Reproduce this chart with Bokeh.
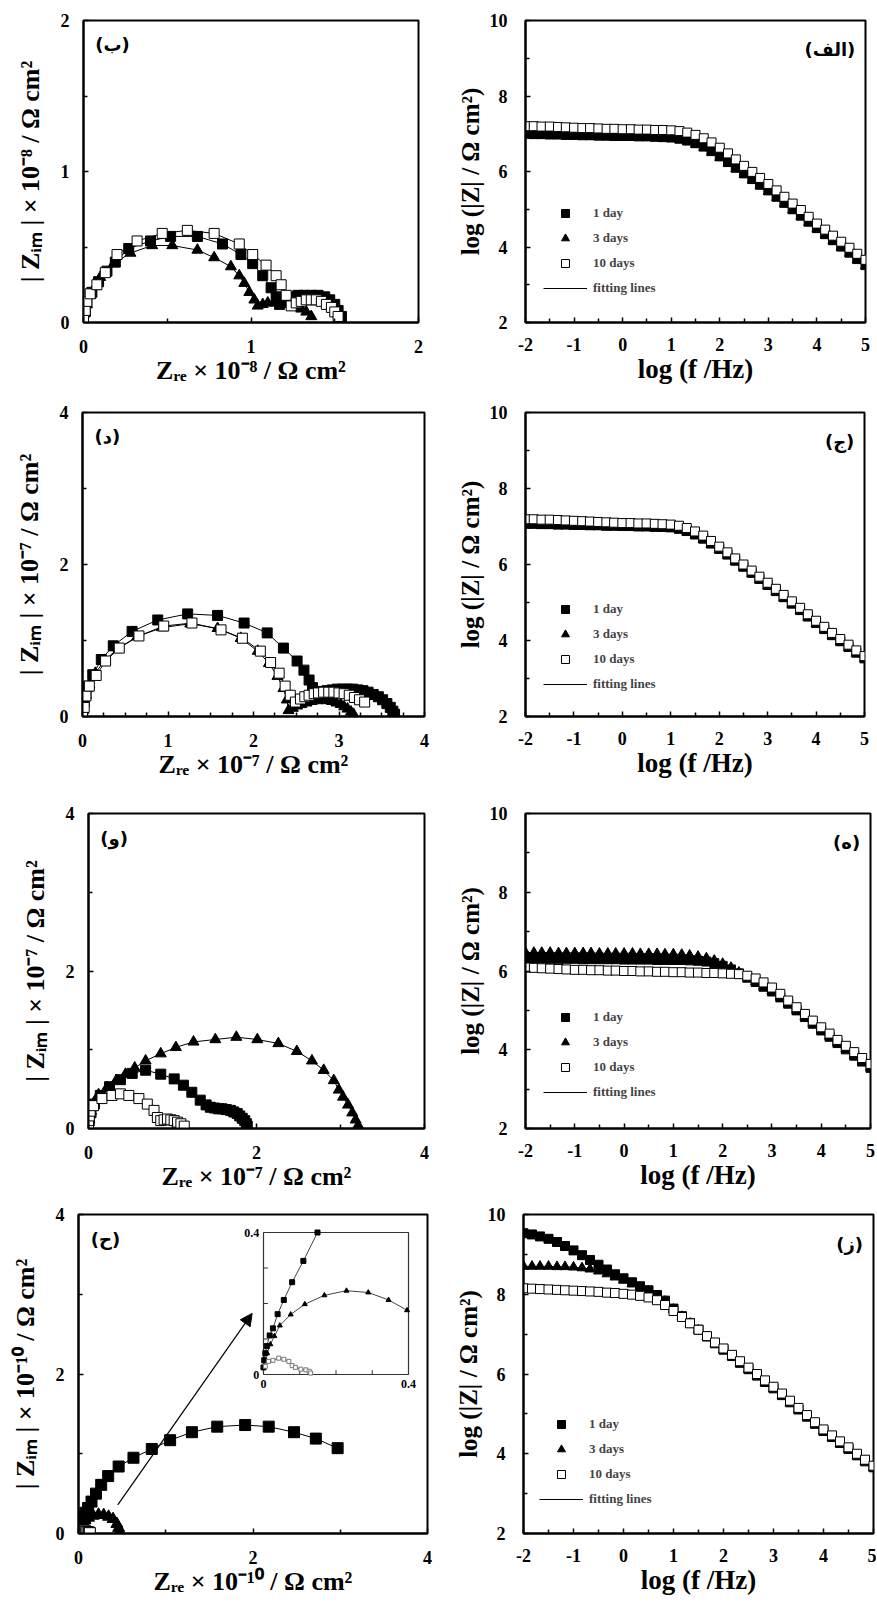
import numpy as np
from bokeh.plotting import figure
from bokeh.models import (Range1d, FixedTicker, Legend, LegendItem, Label,
                          Arrow, NormalHead)
from bokeh.layouts import column, row
from bokeh.embed import file_html
from bokeh.resources import INLINE
from bokeh.core.properties import value

SERIF = "Liberation Serif"
ARABIC = "DejaVu Sans"

# ---------------- Bode data (log f grid shared by all Bode panels) ----------------
log_f = [-2.00, -1.83, -1.67, -1.50, -1.33, -1.17, -1.00, -0.83, -0.67, -0.50, -0.33, -0.17,
         0.00, 0.17, 0.33, 0.50, 0.67, 0.83, 1.00, 1.17, 1.33, 1.50, 1.67, 1.83,
         2.00, 2.17, 2.33, 2.50, 2.67, 2.83, 3.00, 3.17, 3.33, 3.50, 3.67, 3.83,
         4.00, 4.17, 4.33, 4.50, 4.67, 4.83, 5.00]

# panel (الف)
alef_1day = [7.00, 6.99, 6.99, 6.98, 6.98, 6.97, 6.97, 6.96, 6.96, 6.95, 6.95, 6.94,
             6.94, 6.94, 6.93, 6.93, 6.92, 6.91, 6.90, 6.87, 6.82, 6.75, 6.66, 6.54,
             6.40, 6.25, 6.10, 5.95, 5.80, 5.65, 5.50, 5.33, 5.17, 5.00, 4.83, 4.67,
             4.50, 4.34, 4.18, 4.01, 3.85, 3.68, 3.52]
alef_3days = [6.97, 6.97, 6.96, 6.96, 6.95, 6.95, 6.94, 6.94, 6.93, 6.93, 6.92, 6.92,
              6.91, 6.91, 6.90, 6.90, 6.89, 6.88, 6.87, 6.84, 6.79, 6.72, 6.63, 6.51,
              6.37, 6.22, 6.07, 5.92, 5.77, 5.62, 5.47, 5.31, 5.14, 4.98, 4.81, 4.65,
              4.48, 4.32, 4.16, 3.99, 3.83, 3.66, 3.50]
alef_10days = [7.20, 7.20, 7.19, 7.19, 7.18, 7.17, 7.16, 7.15, 7.15, 7.14, 7.13, 7.13,
               7.12, 7.12, 7.11, 7.11, 7.10, 7.10, 7.09, 7.07, 7.03, 6.97, 6.88, 6.77,
               6.63, 6.48, 6.32, 6.15, 5.99, 5.83, 5.67, 5.50, 5.33, 5.15, 4.98, 4.80,
               4.62, 4.46, 4.30, 4.14, 3.98, 3.82, 3.66]
# panel (ج)
jim_1day = [7.08, 7.08, 7.07, 7.07, 7.06, 7.06, 7.05, 7.05, 7.04, 7.04, 7.03, 7.03,
            7.02, 7.02, 7.01, 7.01, 7.00, 6.99, 6.98, 6.94, 6.88, 6.79, 6.68, 6.55,
            6.41, 6.26, 6.10, 5.94, 5.78, 5.62, 5.46, 5.30, 5.14, 4.97, 4.80, 4.63,
            4.46, 4.30, 4.14, 3.98, 3.83, 3.68, 3.53]
jim_3days = [7.03, 7.03, 7.02, 7.02, 7.01, 7.01, 7.00, 7.00, 6.99, 6.99, 6.98, 6.98,
             6.97, 6.97, 6.96, 6.96, 6.95, 6.95, 6.94, 6.91, 6.85, 6.77, 6.66, 6.53,
             6.39, 6.24, 6.08, 5.92, 5.76, 5.60, 5.44, 5.28, 5.12, 4.95, 4.78, 4.61,
             4.44, 4.28, 4.12, 3.96, 3.81, 3.66, 3.51]
jim_10days = [7.19, 7.19, 7.18, 7.18, 7.17, 7.16, 7.15, 7.14, 7.13, 7.12, 7.11, 7.10,
              7.09, 7.09, 7.08, 7.08, 7.07, 7.06, 7.05, 7.02, 6.96, 6.87, 6.76, 6.62,
              6.47, 6.32, 6.16, 6.00, 5.84, 5.68, 5.52, 5.36, 5.20, 5.03, 4.86, 4.69,
              4.52, 4.36, 4.20, 4.04, 3.89, 3.74, 3.59]
# panel (ه)
he_1day = [6.32, 6.32, 6.32, 6.31, 6.31, 6.31, 6.31, 6.30, 6.30, 6.30, 6.30, 6.30,
           6.29, 6.29, 6.29, 6.29, 6.28, 6.28, 6.28, 6.28, 6.27, 6.26, 6.24, 6.20,
           6.13, 6.04, 5.94, 5.83, 5.72, 5.60, 5.48, 5.33, 5.17, 5.00, 4.83, 4.66,
           4.49, 4.33, 4.17, 4.01, 3.85, 3.70, 3.54]
he_3days = [6.47, 6.47, 6.47, 6.47, 6.46, 6.46, 6.46, 6.46, 6.46, 6.45, 6.45, 6.45,
            6.45, 6.45, 6.44, 6.44, 6.44, 6.43, 6.43, 6.42, 6.40, 6.37, 6.33, 6.27,
            6.19, 6.09, 5.97, 5.85, 5.73, 5.61, 5.49, 5.34, 5.18, 5.01, 4.84, 4.67,
            4.50, 4.34, 4.18, 4.02, 3.86, 3.71, 3.55]
he_10days = [6.09, 6.08, 6.07, 6.06, 6.05, 6.04, 6.03, 6.03, 6.02, 6.02, 6.01, 6.01,
             6.00, 6.00, 5.99, 5.99, 5.98, 5.98, 5.97, 5.97, 5.96, 5.96, 5.95, 5.95,
             5.94, 5.93, 5.92, 5.88, 5.81, 5.71, 5.58, 5.42, 5.25, 5.08, 4.91, 4.74,
             4.57, 4.41, 4.25, 4.10, 3.94, 3.79, 3.64]
# panel (ز)
ze_1day = [9.53, 9.50, 9.45, 9.39, 9.31, 9.21, 9.10, 8.98, 8.86, 8.74, 8.62, 8.50,
           8.40, 8.30, 8.20, 8.10, 7.98, 7.84, 7.64, 7.45, 7.28, 7.11, 6.94, 6.77,
           6.61, 6.45, 6.28, 6.12, 5.96, 5.80, 5.64, 5.47, 5.29, 5.11, 4.93, 4.75,
           4.57, 4.42, 4.27, 4.12, 3.96, 3.81, 3.66]
ze_3days = [8.70, 8.70, 8.70, 8.70, 8.69, 8.69, 8.68, 8.66, 8.63, 8.58, 8.51, 8.43,
            8.35, 8.26, 8.17, 8.07, 7.96, 7.82, 7.62, 7.44, 7.27, 7.10, 6.93, 6.76,
            6.60, 6.44, 6.27, 6.11, 5.95, 5.79, 5.63, 5.46, 5.28, 5.10, 4.92, 4.74,
            4.56, 4.41, 4.26, 4.11, 3.95, 3.80, 3.65]
ze_10days = [8.15, 8.14, 8.13, 8.12, 8.11, 8.10, 8.09, 8.08, 8.07, 8.06, 8.04, 8.03,
             8.01, 7.99, 7.96, 7.92, 7.85, 7.73, 7.58, 7.43, 7.27, 7.11, 6.95, 6.79,
             6.64, 6.48, 6.32, 6.16, 6.00, 5.84, 5.68, 5.51, 5.33, 5.15, 4.97, 4.79,
             4.61, 4.46, 4.31, 4.16, 4.00, 3.85, 3.70]

# ---------------- Nyquist data ----------------
# panel (ب)  (x 10^-8)
be_1day_x = [0.00, 0.01, 0.02, 0.05, 0.09, 0.14, 0.19, 0.27, 0.40, 0.52, 0.68, 0.83, 0.94, 1.01, 1.07,
             1.12, 1.15, 1.17, 1.20, 1.24, 1.28, 1.32, 1.36, 1.40, 1.44, 1.47, 1.50, 1.52, 1.54]
be_1day_y = [0.02, 0.07, 0.13, 0.20, 0.27, 0.34, 0.40, 0.49, 0.54, 0.57, 0.57, 0.52, 0.45, 0.39, 0.31,
             0.23, 0.17, 0.12, 0.15, 0.17, 0.18, 0.18, 0.18, 0.18, 0.17, 0.15, 0.12, 0.08, 0.04]
be_3days_x = [0.00, 0.01, 0.02, 0.04, 0.07, 0.10, 0.18, 0.28, 0.41, 0.53, 0.68, 0.78, 0.88, 0.93,
              0.96, 0.99, 1.02, 1.04, 1.07, 1.10, 1.14, 1.18, 1.22, 1.26, 1.30, 1.33, 1.36]
be_3days_y = [0.02, 0.07, 0.12, 0.18, 0.24, 0.30, 0.39, 0.46, 0.51, 0.51, 0.48, 0.43, 0.37, 0.31,
              0.26, 0.20, 0.15, 0.11, 0.12, 0.13, 0.13, 0.13, 0.12, 0.11, 0.09, 0.07, 0.04]
be_10days_x = [0.00, 0.01, 0.02, 0.04, 0.08, 0.13, 0.20, 0.32, 0.47, 0.62, 0.78, 0.93, 1.01, 1.09,
               1.15, 1.18, 1.21, 1.24, 1.27, 1.30, 1.33, 1.36, 1.39, 1.42, 1.45, 1.48, 1.50, 1.52]
be_10days_y = [0.02, 0.08, 0.14, 0.19, 0.25, 0.33, 0.45, 0.54, 0.59, 0.61, 0.59, 0.52, 0.45, 0.38,
               0.31, 0.25, 0.18, 0.11, 0.13, 0.14, 0.15, 0.15, 0.15, 0.14, 0.12, 0.10, 0.07, 0.04]
# panel (د)  (x 10^-7)
dal_1day_x = [0.00, 0.01, 0.02, 0.04, 0.07, 0.12, 0.22, 0.36, 0.58, 0.88, 1.23, 1.58, 1.89, 2.16,
              2.35, 2.51, 2.59, 2.65, 2.69, 2.74, 2.80, 2.86, 2.92, 2.98, 3.04, 3.10, 3.16, 3.22,
              3.28, 3.34, 3.40, 3.46, 3.51, 3.56, 3.60, 3.63, 3.65]
dal_1day_y = [0.03, 0.10, 0.19, 0.29, 0.40, 0.55, 0.75, 0.93, 1.12, 1.27, 1.35, 1.33, 1.23, 1.10,
              0.90, 0.73, 0.61, 0.48, 0.38, 0.32, 0.33, 0.34, 0.35, 0.36, 0.36, 0.36, 0.36, 0.35,
              0.34, 0.32, 0.29, 0.26, 0.22, 0.17, 0.12, 0.07, 0.03]
dal_3days_x = [0.00, 0.01, 0.02, 0.04, 0.08, 0.15, 0.26, 0.42, 0.64, 0.93, 1.26, 1.58, 1.85, 2.05,
               2.18, 2.28, 2.35, 2.39, 2.41, 2.46, 2.51, 2.56, 2.62, 2.68, 2.74, 2.80, 2.86, 2.92,
               2.97, 3.02, 3.06, 3.10, 3.14, 3.17]
dal_3days_y = [0.03, 0.10, 0.18, 0.28, 0.42, 0.57, 0.74, 0.90, 1.05, 1.17, 1.22, 1.16, 1.03, 0.86,
               0.70, 0.53, 0.37, 0.22, 0.08, 0.11, 0.14, 0.16, 0.18, 0.20, 0.21, 0.22, 0.21, 0.20,
               0.18, 0.16, 0.13, 0.10, 0.06, 0.03]
dal_10days_x = [0.00, 0.02, 0.04, 0.08, 0.16, 0.27, 0.43, 0.66, 0.95, 1.28, 1.62, 1.87, 2.08, 2.20,
                2.30, 2.37, 2.43, 2.49, 2.55, 2.60, 2.65, 2.71, 2.76, 2.82, 2.88, 2.94, 3.00, 3.06,
                3.12, 3.18, 3.24, 3.30]
dal_10days_y = [0.03, 0.12, 0.27, 0.40, 0.54, 0.73, 0.90, 1.06, 1.19, 1.23, 1.14, 1.03, 0.86, 0.71,
                0.57, 0.40, 0.28, 0.19, 0.23, 0.26, 0.28, 0.30, 0.31, 0.32, 0.32, 0.32, 0.31, 0.30,
                0.28, 0.25, 0.22, 0.19]
# panel (و)  (x 10^-7)
vav_1day_x = [0.00, 0.01, 0.03, 0.07, 0.14, 0.25, 0.38, 0.52, 0.68, 0.86, 1.02, 1.13, 1.23, 1.33,
              1.40, 1.45, 1.50, 1.55, 1.59, 1.64, 1.69, 1.73, 1.77, 1.80, 1.83, 1.86, 1.88, 1.89]
vav_1day_y = [0.03, 0.10, 0.20, 0.31, 0.42, 0.53, 0.62, 0.70, 0.74, 0.69, 0.63, 0.55, 0.46, 0.36,
              0.30, 0.27, 0.26, 0.25, 0.25, 0.24, 0.23, 0.21, 0.19, 0.16, 0.13, 0.10, 0.06, 0.03]
vav_3days_x = [0.00, 0.01, 0.03, 0.06, 0.12, 0.22, 0.33, 0.44, 0.55, 0.68, 0.86, 1.04, 1.25, 1.51,
               1.76, 2.01, 2.26, 2.48, 2.66, 2.80, 2.92, 2.98, 3.03, 3.09, 3.14, 3.18, 3.21]
vav_3days_y = [0.03, 0.12, 0.22, 0.32, 0.43, 0.52, 0.61, 0.69, 0.77, 0.86, 0.95, 1.03, 1.10, 1.13,
               1.16, 1.13, 1.08, 0.98, 0.86, 0.74, 0.61, 0.49, 0.40, 0.30, 0.20, 0.11, 0.04]
vav_10days_x = [0.00, 0.00, 0.01, 0.02, 0.06, 0.16, 0.28, 0.38, 0.48, 0.60, 0.70, 0.78, 0.82, 0.86,
                0.90, 0.94, 0.98, 1.02, 1.06, 1.10, 1.14]
vav_10days_y = [0.03, 0.10, 0.16, 0.22, 0.29, 0.38, 0.42, 0.44, 0.42, 0.38, 0.31, 0.23, 0.14, 0.10,
                0.11, 0.12, 0.11, 0.10, 0.08, 0.06, 0.03]
# panel (ح)  (x 10^-10)
he2_1day_x = [0.000, 0.002, 0.005, 0.009, 0.017, 0.026, 0.039, 0.056, 0.079, 0.110, 0.149, 0.20,
              0.26, 0.34, 0.46, 0.63, 0.84, 1.05, 1.30, 1.59, 1.91, 2.18, 2.47, 2.72, 2.97]
he2_1day_y = [0.02, 0.04, 0.06, 0.08, 0.11, 0.13, 0.17, 0.21, 0.26, 0.32, 0.40, 0.50,
              0.61, 0.72, 0.84, 0.95, 1.06, 1.17, 1.27, 1.34, 1.36, 1.34, 1.27, 1.19, 1.07]
he2_3days_x = [0.000, 0.004, 0.010, 0.019, 0.030, 0.045, 0.075, 0.114, 0.168, 0.229, 0.289, 0.345,
               0.396, 0.44, 0.46, 0.47]
he2_3days_y = [0.02, 0.04, 0.06, 0.085, 0.108, 0.138, 0.169, 0.198, 0.223, 0.236, 0.231, 0.210,
               0.181, 0.12, 0.07, 0.02]
he2_10days_x = [0.005, 0.014, 0.026, 0.042, 0.056, 0.070, 0.079, 0.088, 0.103, 0.117, 0.126, 0.130]
he2_10days_y = [0.023, 0.037, 0.040, 0.046, 0.043, 0.037, 0.025, 0.020, 0.015, 0.013, 0.009, 0.004]
inset_limit = 0.4
inset_ticks = [0.1, 0.2, 0.3]
arrow_from = (0.45, 0.36)
arrow_to = (1.99, 2.76)

legend_labels = ["1 day", "3 days", "10 days", "fitting lines"]


# ---------------- helpers ----------------
def base_fig(geo, xr, yr):
    bl, fw, br, bt, fh, bb = geo
    p = figure(width=bl + fw + br, height=bt + fh + bb,
               min_border_left=bl, min_border_right=br,
               min_border_top=bt, min_border_bottom=bb,
               x_range=Range1d(*xr), y_range=Range1d(*yr),
               output_backend="svg", toolbar_location=None)
    p.xgrid.visible = False
    p.ygrid.visible = False
    p.outline_line_color = "black"
    p.outline_line_width = 2
    p.outline_line_alpha = 1.0
    p.background_fill_color = "white"
    p.border_fill_color = "white"
    return p


def style_axes(p, xt, xmt, yt, ymt, xlabel, ylabel, xlab_size, ylab_size,
               x_std, y_std, x_als, y_als):
    p.xaxis.ticker = FixedTicker(ticks=xt, minor_ticks=xmt)
    p.yaxis.ticker = FixedTicker(ticks=yt, minor_ticks=ymt)
    p.xaxis.major_label_overrides = {t: str(t) for t in xt}
    p.yaxis.major_label_overrides = {t: str(t) for t in yt}
    p.xaxis.axis_label = xlabel
    p.yaxis.axis_label = ylabel
    for ax in (p.xaxis[0], p.yaxis[0]):
        ax.axis_line_color = "black"
        ax.axis_line_width = 2
        ax.major_tick_in = 5
        ax.major_tick_out = 0
        ax.minor_tick_in = 4
        ax.minor_tick_out = 0
        ax.major_tick_line_width = 1.5
        ax.minor_tick_line_width = 1.5
        ax.major_tick_line_color = "black"
        ax.minor_tick_line_color = "black"
        ax.major_label_text_font = SERIF
        ax.major_label_text_font_style = "bold"
        ax.major_label_text_font_size = "18px"
        ax.major_label_text_color = "black"
        ax.axis_label_text_font = SERIF
        ax.axis_label_text_font_style = "bold"
        ax.axis_label_text_color = "black"
    p.xaxis.axis_label_text_font_size = xlab_size
    p.yaxis.axis_label_text_font_size = ylab_size
    p.xaxis.major_label_standoff = x_std
    p.yaxis.major_label_standoff = y_std
    p.xaxis.axis_label_standoff = x_als
    p.yaxis.axis_label_standoff = y_als


def draw_series(p, xs, ys, size, lw=1.0):
    """xs/ys: lists for 1 day, 3 days, 10 days."""
    lines = []
    for x, y in zip(xs, ys):
        lines.append(p.line(x, y, line_color="black", line_width=lw))
    r1 = p.scatter(xs[0], ys[0], marker="square", size=size,
                   fill_color="black", line_color="black")
    r3 = p.scatter(xs[1], ys[1], marker="triangle", size=size + 1,
                   fill_color="black", line_color="black")
    r10 = p.scatter(xs[2], ys[2], marker="square", size=size,
                    fill_color="white", line_color="black", line_width=1)
    return r1, r3, r10, lines[0]


def panel_label(p, text, x, y, align):
    p.add_layout(Label(x=x, y=y, text=text, text_font=ARABIC, text_font_style="bold",
                       text_font_size="18px", text_align=align, text_baseline="top",
                       text_color="black"))


def nyquist(geo, xmax, xt, xmt, yt, ymt, exp, xs, ys, label, msize):
    p = base_fig(geo, (0, xmax), (0, xmax))
    style_axes(p, xt, xmt, yt, ymt,
               "Zᵣₑ × 10" + exp + " / Ω cm²", "| Zᵢₘ | × 10" + exp + " / Ω cm²",
               "26px", "26px", 17, 14, 0, 13)
    draw_series(p, xs, ys, msize)
    panel_label(p, label, 0.035 * xmax, 0.955 * xmax, "left")
    return p


def bode(geo, ys, label, leg_loc):
    p = base_fig(geo, (-2, 5), (2, 10))
    style_axes(p, [-2, -1, 0, 1, 2, 3, 4, 5],
               [-1.5, -0.5, 0.5, 1.5, 2.5, 3.5, 4.5],
               [2, 4, 6, 8, 10], [3, 5, 7, 9],
               "log (f /Hz)", "log (|Z| / Ω cm²)", "27px", "25px", 15, 18, 0, 3)
    r1, r3, r10, rl = draw_series(p, [log_f, log_f, log_f], ys, 9)
    leg = Legend(items=[LegendItem(label=legend_labels[0], renderers=[r1]),
                        LegendItem(label=legend_labels[1], renderers=[r3]),
                        LegendItem(label=legend_labels[2], renderers=[r10]),
                        LegendItem(label=legend_labels[3], renderers=[rl])],
                 location=leg_loc)
    leg.background_fill_alpha = 0
    leg.border_line_alpha = 0
    leg.label_text_font = SERIF
    leg.label_text_font_style = "bold"
    leg.label_text_font_size = "13px"
    leg.glyph_width = 44
    leg.glyph_height = 20
    leg.label_height = 20
    leg.spacing = 5
    leg.padding = 0
    leg.margin = 0
    leg.label_standoff = 6
    p.add_layout(leg)
    panel_label(p, label, 5 - 0.03 * 7, 10 - 0.06 * 8, "right")
    return p


# geometry: (border_left, frame_w, border_right, border_top, frame_h, border_bottom)
# ---------------- row 1 ----------------
p_be = nyquist((83, 335, 30, 20, 302, 76), 2, [0, 1, 2], [0.5, 1.5], [0, 1, 2], [0.5, 1.5], "⁻⁸",
               [be_1day_x, be_3days_x, be_10days_x], [be_1day_y, be_3days_y, be_10days_y],
               "(ب)", 10)
p_alef = bode((77, 340, 11, 18, 314, 66), [alef_1day, alef_3days, alef_10days], "(الف)", (18, 24))

# ---------------- row 2 ----------------
quarter = [0.25, 0.5, 0.75, 1.25, 1.5, 1.75, 2.25, 2.5, 2.75, 3.25, 3.5, 3.75]
p_dal = nyquist((82, 342, 24, 14, 320, 66), 4, [0, 1, 2, 3, 4], quarter, [0, 2, 4], [1, 3], "⁻⁷",
                [dal_1day_x, dal_3days_x, dal_10days_x], [dal_1day_y, dal_3days_y, dal_10days_y],
                "(د)", 10)
p_jim = bode((77, 339, 12, 12, 306, 82), [jim_1day, jim_3days, jim_10days], "(ج)", (18, 22))

# ---------------- row 3 ----------------
p_vav = nyquist((88, 336, 24, 15, 315, 68), 4, [0, 2, 4], [1, 3], [0, 2, 4], [1, 3], "⁻⁷",
                [vav_1day_x, vav_3days_x, vav_10days_x], [vav_1day_y, vav_3days_y, vav_10days_y],
                "(و)", 10)
p_he = bode((77, 345, 6, 15, 317, 66), [he_1day, he_3days, he_10days], "(ه)", (18, 26))

# ---------------- row 4 ----------------
geo_ha = (78, 349, 21, 18, 319, 69)
p_ha = nyquist(geo_ha, 4, [0, 2, 4], [1, 3], [0, 2, 4], [1, 3], "⁻¹⁰",
               [he2_1day_x, he2_3days_x, he2_10days_x], [he2_1day_y, he2_3days_y, he2_10days_y],
               "(ح)", 11)
# inset: a second coordinate system occupying a sub-box of the frame
fw, fh = geo_ha[1], geo_ha[4]
box_l, box_r, box_b, box_t = 185, 330, 159, 301   # inset box in frame pixels
sx = inset_limit / (box_r - box_l)
sy = inset_limit / (box_t - box_b)
p_ha.extra_x_ranges = {"ins": Range1d(-box_l * sx, inset_limit + (fw - box_r) * sx)}
p_ha.extra_y_ranges = {"ins": Range1d(-box_b * sy, inset_limit + (fh - box_t) * sy)}
p_ha.add_layout(Arrow(end=NormalHead(size=12, fill_color="black", line_color="black"),
                      x_start=arrow_from[0], y_start=arrow_from[1],
                      x_end=arrow_to[0], y_end=arrow_to[1],
                      line_color="black", line_width=1.2))
kw = dict(x_range_name="ins", y_range_name="ins")
p_ha.quad(left=0, right=inset_limit, bottom=0, top=inset_limit, fill_color="white",
          line_color="#333333", line_width=1.2, **kw)
p_ha.segment(x0=inset_ticks, y0=[0] * 3, x1=inset_ticks, y1=[0.012] * 3,
             line_color="#333333", line_width=1, **kw)
p_ha.segment(x0=[0] * 3, y0=inset_ticks, x1=[0.012] * 3, y1=inset_ticks,
             line_color="#333333", line_width=1, **kw)


def inside(xs, ys):
    xa, ya = np.array(xs), np.array(ys)
    m = (xa <= inset_limit) & (ya <= inset_limit)
    return xa[m], ya[m]


x1, y1 = inside(he2_1day_x, he2_1day_y)
x3, y3 = inside(he2_3days_x, he2_3days_y)
x10, y10 = inside(he2_10days_x, he2_10days_y)
for xx, yy in ((x1, y1), (x3, y3), (x10, y10)):
    p_ha.line(xx, yy, line_color="#444444", line_width=1, **kw)
p_ha.scatter(x1, y1, marker="square", size=5, fill_color="black", line_color="black", **kw)
p_ha.scatter(x3, y3, marker="triangle", size=5, fill_color="black", line_color="black", **kw)
p_ha.scatter(x10, y10, marker="square", size=4, fill_color="white", line_color="#777777", **kw)
lab_kw = dict(text_font=value(SERIF), text_font_style="bold", text_font_size="12px",
              text_color="black")
p_ha.text(x=[-0.012, -0.012], y=[0, inset_limit], text=["0", "0.4"], text_align="right",
          text_baseline="middle", **lab_kw, **kw)
p_ha.text(x=[0, inset_limit], y=[-0.015, -0.015], text=["0", "0.4"], text_align="center",
          text_baseline="top", **lab_kw, **kw)

p_ze = bode((75, 350, 3, 17, 322, 67), [ze_1day, ze_3days, ze_10days], "(ز)", (16, 24))

layout = column(row(p_be, p_alef), row(p_dal, p_jim), row(p_vav, p_he), row(p_ha, p_ze))

open("out.html", "w").write(file_html(layout, INLINE))
